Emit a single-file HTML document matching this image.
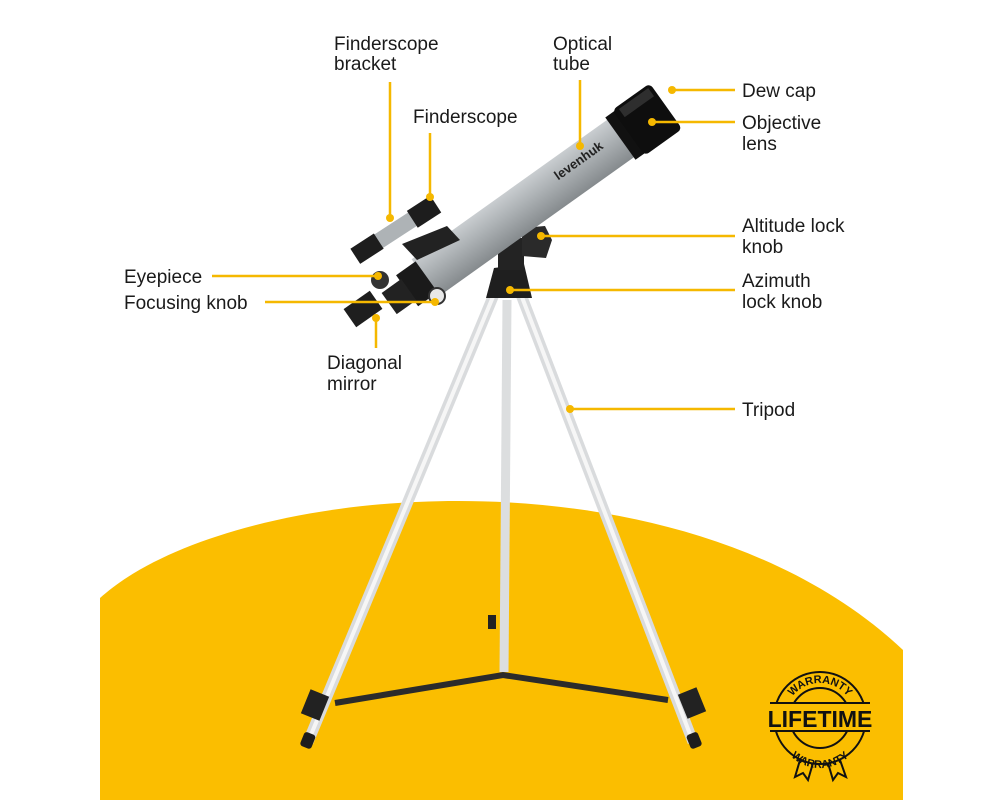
<!DOCTYPE html>
<html><head><meta charset="utf-8"><style>
html,body{margin:0;padding:0;background:#fff}
svg{display:block}
text{font-family:"Liberation Sans",sans-serif;font-size:19px;fill:#1a1a1a}
</style></head><body>
<svg width="1000" height="800" viewBox="0 0 1000 800" xmlns="http://www.w3.org/2000/svg">
<defs>
<linearGradient id="tube" x1="0" y1="0" x2="0" y2="1">
<stop offset="0" stop-color="#c9cdd0"/><stop offset="0.4" stop-color="#aeb3b6"/><stop offset="1" stop-color="#858a8d"/>
</linearGradient>
<path id="arcTop" d="M785,718 A35,35 0 0 1 855,718"/>
<path id="arcBot" d="M778,726 A42,42 0 0 0 862,726"/>
</defs>
<path d="M100,598 C230,480 680,440 903,650 L903,800 L100,800 Z" fill="#FBBE00"/>

<!-- tripod legs -->
<line x1="495" y1="292" x2="308" y2="742" stroke="#d9dbdd" stroke-width="11"/>
<line x1="495" y1="292" x2="308" y2="742" stroke="#f6f6f6" stroke-width="4"/>
<line x1="520" y1="292" x2="693" y2="742" stroke="#d9dbdd" stroke-width="11"/>
<line x1="520" y1="292" x2="693" y2="742" stroke="#f6f6f6" stroke-width="4"/>
<line x1="507" y1="300" x2="504" y2="672" stroke="#dcdedf" stroke-width="9"/>
<rect x="488" y="615" width="8" height="14" fill="#222"/>
<polyline points="335,703 503,675 668,700" fill="none" stroke="#2b2b2b" stroke-width="6"/>
<rect x="305" y="692" width="20" height="26" fill="#222" transform="rotate(22 315 705)"/>
<rect x="682" y="690" width="20" height="26" fill="#222" transform="rotate(-22 692 703)"/>
<rect x="302" y="733" width="12" height="15" rx="3" fill="#1d1d1d" transform="rotate(22 308 740)"/>
<rect x="688" y="733" width="12" height="15" rx="3" fill="#1d1d1d" transform="rotate(-22 694 740)"/>

<!-- mount head -->
<path d="M486,298 L494,268 L524,264 L532,298 Z" fill="#1f1f1f"/>
<rect x="498" y="238" width="26" height="32" fill="#232323"/>
<path d="M522,228 L545,226 L552,240 L546,258 L522,256 Z" fill="#2a2a2a"/>

<!-- optical tube -->
<g transform="translate(425,278) rotate(-35.5)">
<rect x="0" y="-23" width="245" height="46" fill="url(#tube)"/>
<rect x="-22" y="-19" width="24" height="38" fill="#1a1a1a"/>
<rect x="-44" y="-13" width="24" height="26" fill="#222"/>
<rect x="240" y="-26" width="12" height="52" fill="#111"/>
<rect x="250" y="-28" width="46" height="56" rx="5" fill="#0e0e0e"/>
<rect x="256" y="-25" width="36" height="10" fill="#444" opacity="0.6"/>
<text x="165" y="-2" style="font-size:13px;font-weight:bold;fill:#222">levenhuk</text>
</g>
<!-- focuser/diagonal -->
<rect x="347" y="298" width="32" height="22" fill="#1e1e1e" transform="rotate(-35 363 309)"/>
<circle cx="380" cy="280" r="9" fill="#333"/>
<circle cx="437" cy="296" r="8" fill="#e8e8e8" stroke="#333" stroke-width="2"/>
<!-- finderscope -->
<g transform="translate(362,252) rotate(-33)">
<rect x="0" y="-8" width="85" height="16" fill="#aeb3b6"/>
<rect x="-8" y="-9" width="28" height="18" fill="#1d1d1d"/>
<rect x="60" y="-10" width="28" height="20" fill="#1d1d1d"/>
</g>
<path d="M402,244 L447,226 L460,240 L417,260 Z" fill="#222"/>

<!-- connectors -->
<g stroke="#F5B800" stroke-width="2.5" fill="none">
<line x1="390" y1="82" x2="390" y2="218"/>
<line x1="580" y1="80" x2="580" y2="146"/>
<line x1="430" y1="133" x2="430" y2="197"/>
<line x1="672" y1="90" x2="735" y2="90"/>
<line x1="652" y1="122" x2="735" y2="122"/>
<line x1="541" y1="236" x2="735" y2="236"/>
<line x1="510" y1="290" x2="735" y2="290"/>
<line x1="570" y1="409" x2="735" y2="409"/>
<line x1="212" y1="276" x2="378" y2="276"/>
<line x1="265" y1="302" x2="435" y2="302"/>
<line x1="376" y1="318" x2="376" y2="348"/>
</g>
<g fill="#F5B800">
<circle cx="390" cy="218" r="4"/><circle cx="580" cy="146" r="4"/><circle cx="430" cy="197" r="4"/>
<circle cx="672" cy="90" r="4"/><circle cx="652" cy="122" r="4"/><circle cx="541" cy="236" r="4"/>
<circle cx="510" cy="290" r="4"/><circle cx="570" cy="409" r="4"/><circle cx="378" cy="276" r="4"/>
<circle cx="435" cy="302" r="4"/><circle cx="376" cy="318" r="4"/>
</g>

<!-- labels -->
<text x="334" y="50">Finderscope</text><text x="334" y="70">bracket</text>
<text x="553" y="50">Optical</text><text x="553" y="70">tube</text>
<text x="413" y="123">Finderscope</text>
<text x="742" y="97">Dew cap</text>
<text x="742" y="129">Objective</text><text x="742" y="150">lens</text>
<text x="742" y="232">Altitude lock</text><text x="742" y="253">knob</text>
<text x="742" y="287">Azimuth</text><text x="742" y="308">lock knob</text>
<text x="742" y="416">Tripod</text>
<text x="124" y="283">Eyepiece</text>
<text x="124" y="309">Focusing knob</text>
<text x="327" y="369">Diagonal</text><text x="327" y="390">mirror</text>

<!-- warranty badge -->
<g fill="none" stroke="#111" stroke-width="2">
<circle cx="820" cy="718" r="46"/>
<circle cx="820" cy="718" r="30"/>
<path d="M800,760 L795,777 L803,773 L808,780 L813,763"/>
<path d="M828,763 L833,780 L838,773 L846,777 L840,760"/>
</g>
<rect x="770" y="703" width="100" height="29" fill="#FBBE00"/>
<line x1="770" y1="703" x2="870" y2="703" stroke="#111" stroke-width="2"/>
<line x1="770" y1="731" x2="870" y2="731" stroke="#111" stroke-width="2"/>
<text x="820" y="727" text-anchor="middle" style="font-size:23px;font-weight:bold;fill:#111">LIFETIME</text>
<text style="font-size:11px;font-weight:bold;fill:#111"><textPath href="#arcTop" startOffset="50%" text-anchor="middle">WARRANTY</textPath></text>
<text style="font-size:11px;font-weight:bold;fill:#111"><textPath href="#arcBot" startOffset="50%" text-anchor="middle">WARRANTY</textPath></text>
</svg>
</body></html>
